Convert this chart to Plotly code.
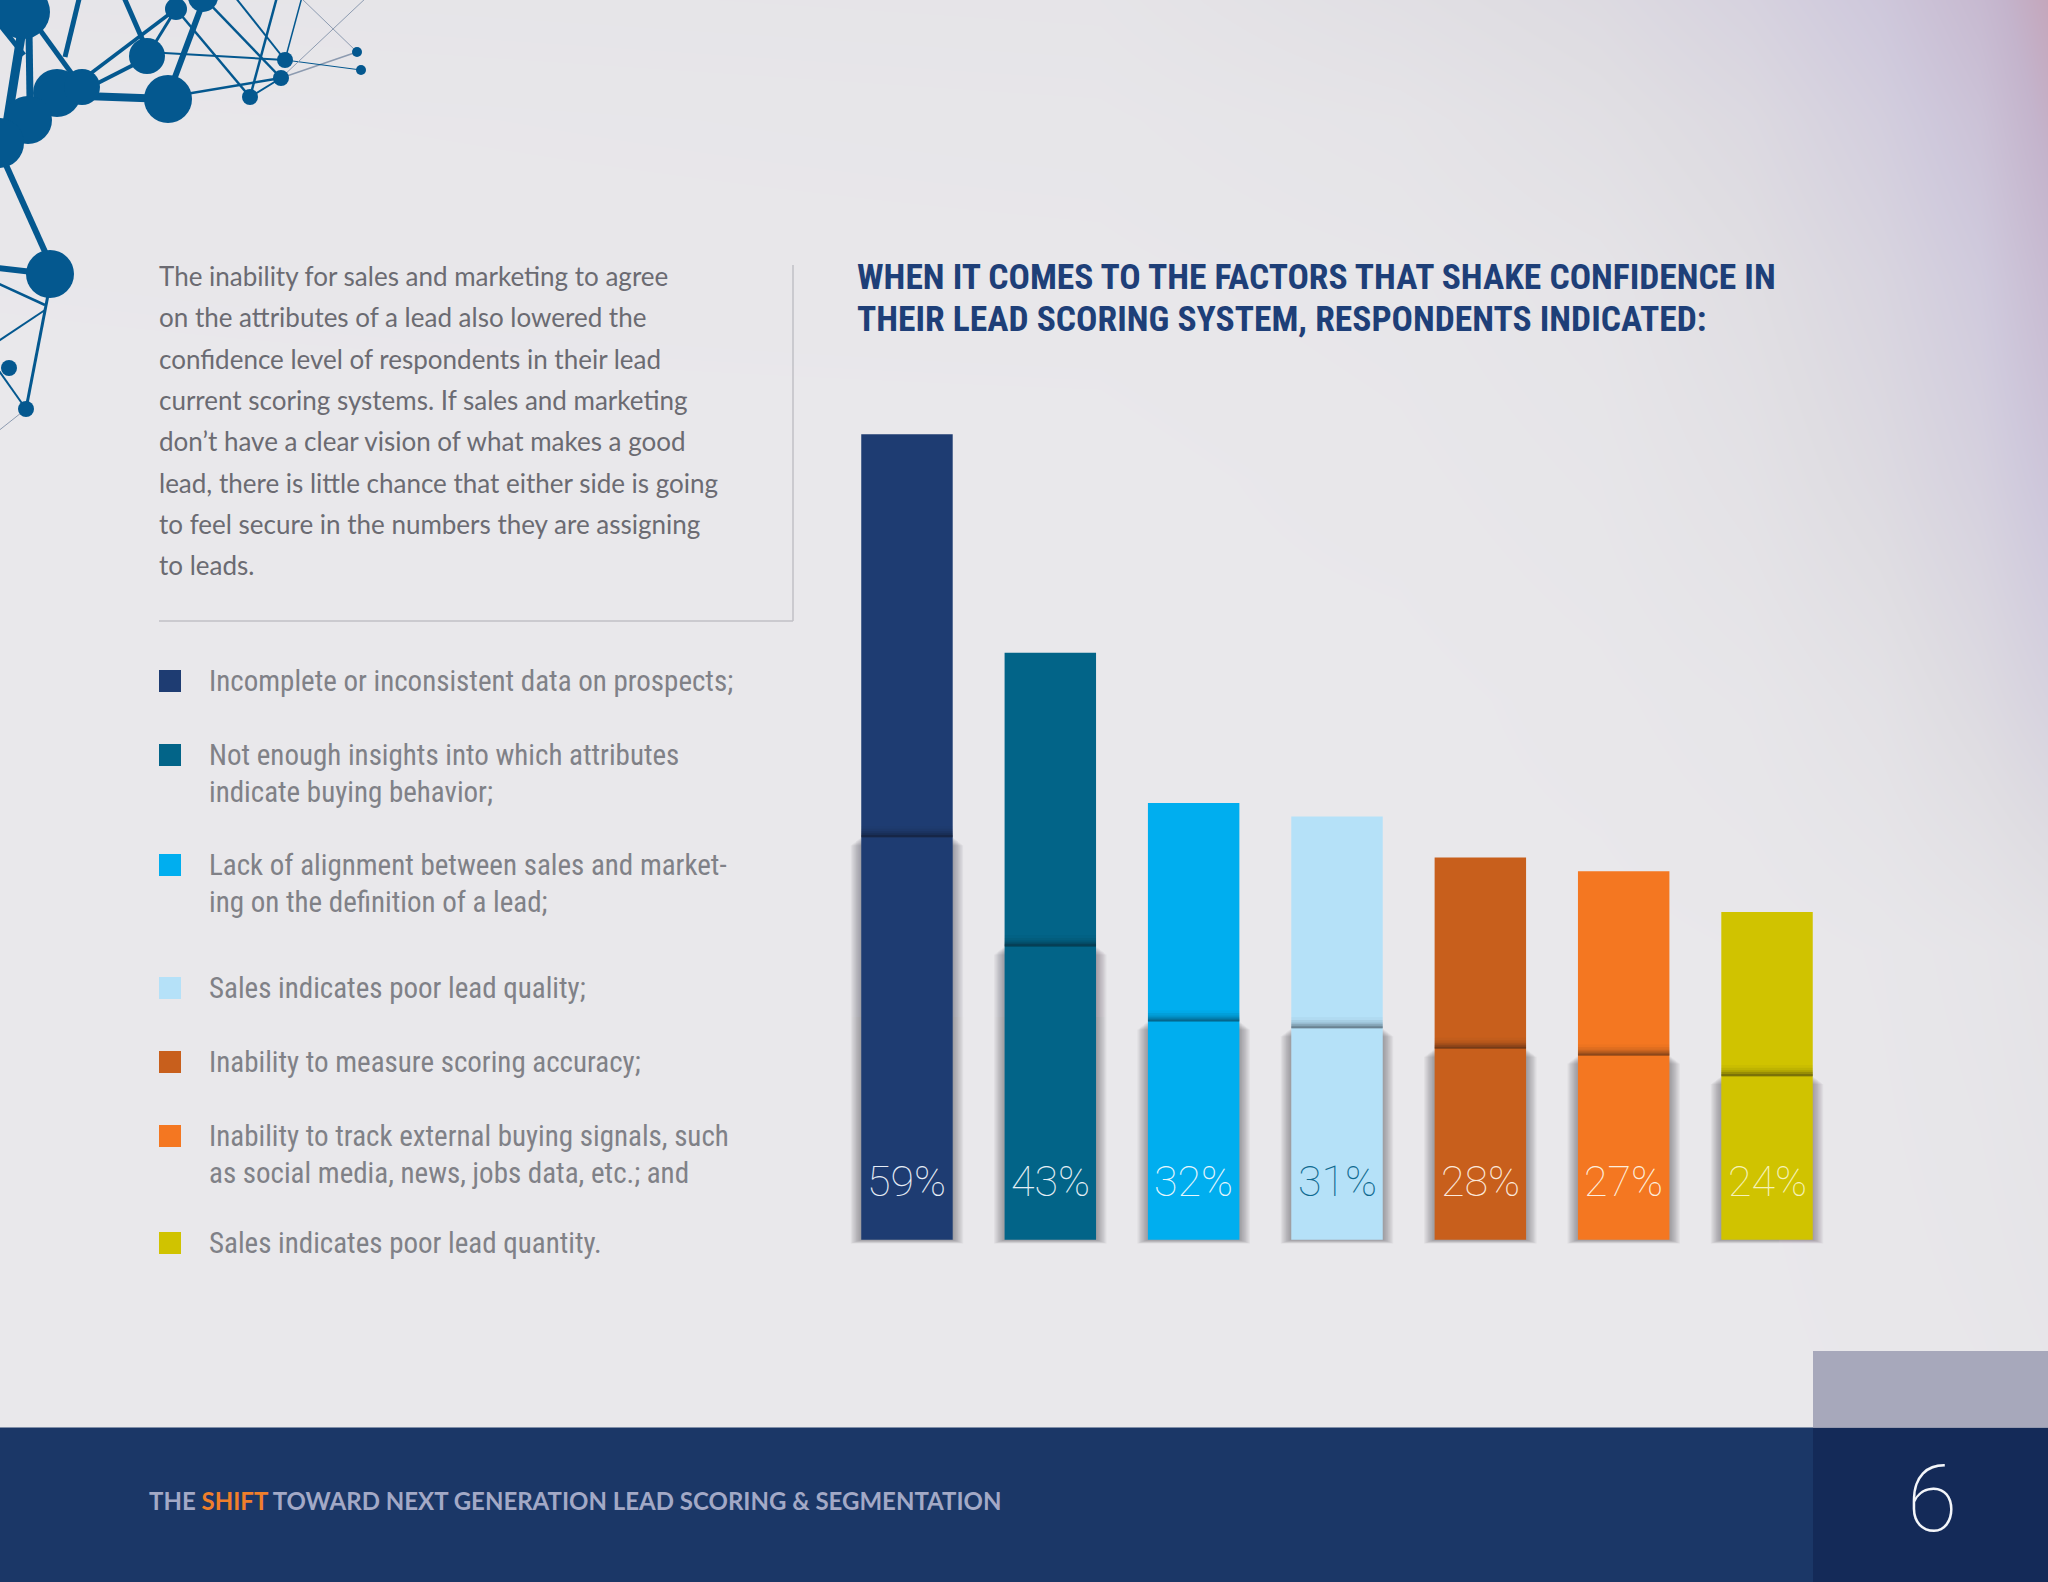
import plotly.graph_objects as go

# chart values
categories = [
    "Incomplete or inconsistent data on prospects;",
    "Not enough insights into which attributes<br>indicate buying behavior;",
    "Lack of alignment between sales and market-<br>ing on the definition of a lead;",
    "Sales indicates poor lead quality;",
    "Inability to measure scoring accuracy;",
    "Inability to track external buying signals, such<br>as social media, news, jobs data, etc.; and",
    "Sales indicates poor lead quantity.",
]
values = [59, 43, 32, 31, 28, 27, 24]
fold_levels = [29.5, 21.5, 16, 15.5, 14, 13.5, 12]
bar_colors = ["#1e3c72", "#026488", "#00aeef", "#b5e1f8", "#c85f1c", "#f47721", "#d0c300"]
label_colors = ["#e6edf6", "#e6eff5", "#e6f6fd", "#0f6a90", "#fbe9dc", "#fdeede", "#f6f2b8"]

paragraph = [
    "The inability for sales and marketing to agree",
    "on the attributes of a lead also lowered the",
    "confidence level of respondents in their lead",
    "current scoring systems. If sales and marketing",
    "don’t have a clear vision of what makes a good",
    "lead, there is little chance that either side is going",
    "to feel secure in the numbers they are assigning",
    "to leads.",
]
paragraph_y = [276, 317, 359, 400, 441, 483, 524, 565]
title_lines = [
    "WHEN IT COMES TO THE FACTORS THAT SHAKE CONFIDENCE IN",
    "THEIR LEAD SCORING SYSTEM, RESPONDENTS INDICATED:",
]
title_y = [277, 319]
legend_y = [681, 755, 865, 988, 1062, 1136, 1243]
LEGEND_LINE = 36.5

# soft background tint, read from the top right of the page
bg_x = [-100, 1100, 1400, 1600, 1750, 1880, 1980, 2048, 2150]
bg_y = [-100, 0, 120, 280, 480, 700, 950, 1700]
bg_tint = [
    [.06, .08, .16, .26, .40, .60, .85, 1.0, 1.0],
    [.05, .07, .16, .24, .36, .52, .72, .95, 1.0],
    [.02, .04, .08, .16, .26, .42, .60, .85, .90],
    [.01, .02, .04, .08, .18, .32, .48, .70, .75],
    [.00, .00, .02, .05, .12, .24, .38, .55, .60],
    [.00, .00, .00, .02, .05, .12, .24, .36, .40],
    [.00, .00, .00, .00, .01, .03, .06, .10, .12],
    [.00, .00, .00, .00, .00, .00, .00, .00, .00],
]

# network ornament in the top left corner: x0, y0, x1, y1, width, colour
NET = "#04588f"
GREY = "#8d9bb0"
net_lines = [
    (80, -5, 65, 57, 5, NET), (123, -5, 147, 50, 5, NET), (40, 30, 72, 74, 5, NET),
    (22, 30, 6, 130, 9, NET), (29, 30, 30, 100, 7, NET), (0, 25, 24, 55, 5, NET),
    (82, 80, 176, 9, 3.5, NET), (96, 84, 147, 58, 4, NET), (147, 56, 176, 9, 3, NET),
    (57, 95, 168, 99, 8, NET), (175, 77, 205, -3, 6, NET), (168, 97, 281, 78, 2.5, NET),
    (147, 52, 285, 60, 2, NET), (176, 9, 250, 97, 2.5, NET), (203, -3, 281, 78, 2.5, NET),
    (235, -3, 285, 60, 2, NET), (277, -3, 250, 97, 2.5, NET), (302, -3, 285, 60, 1.5, NET),
    (250, 97, 281, 78, 2, NET), (281, 78, 357, 52, 1.5, GREY), (285, 60, 361, 70, 1, NET),
    (300, -3, 357, 52, 1, GREY), (367, -3, 281, 78, 1, GREY),
    (6, 165, 46, 254, 6, NET), (-3, 268, 50, 274, 6, NET), (-3, 283, 45, 305, 2.5, NET),
    (-3, 342, 45, 310, 2, NET), (48, 295, 26, 409, 3, NET), (-3, 368, 26, 409, 2, NET),
    (26, 409, -3, 432, 1, GREY),
]
# x, y, radius
net_nodes = [
    (23, 12, 27), (176, 9, 11), (203, -3, 15), (147, 56, 18), (168, 99, 24), (57, 93, 24),
    (82, 87, 18), (28, 120, 24), (-1, 143, 25), (50, 274, 24), (285, 60, 8), (281, 78, 8),
    (250, 97, 8), (357, 52, 5), (361, 70, 5), (9, 368, 8), (26, 409, 8),
]

W, H = 2048, 1582
BAR_W = 0.638
BASE_Y, UNIT = 1239.7, 13.65     # page pixels of the zero line and of one percent
PLOT_L, PLOT_R = 835.3, 1838.7
Y_MIN, Y_MAX = -2, 60


def rect(x0, y0, x1, y1, color, width=0):
    return dict(type="rect", xref="x", yref="y", x0=x0, y0=y0, x1=x1, y1=y1, layer="above",
                fillcolor=color, line=dict(width=width, color=color))


def label(x, y, text, family, size, color, anchor="left", xref="x", yref="y", weight=None):
    return dict(x=x, y=y, xref=xref, yref=yref, text=text, showarrow=False, xanchor=anchor,
                yanchor="middle", align=anchor,
                font=dict(family=family, size=size, color=color, weight=weight))


fig = go.Figure()

fig.add_trace(go.Heatmap(
    x=bg_x, y=bg_y, z=bg_tint, zmin=0, zmax=1, zsmooth="best", showscale=False, hoverinfo="skip",
    colorscale=[[0, "#e9e8eb"], [.2, "#dfdde2"], [.5, "#cfc9dc"], [.8, "#c4b4cc"], [1, "#c4a2b6"]],
    xaxis="x", yaxis="y",
))

# soft shadow under the lower half of each bar
for i in range(1, 9):
    grow = 1.3 * i / 143.3
    fig.add_trace(go.Bar(
        x=categories, y=[f - 0.04 * i for f in fold_levels], base=-0.035 * i,
        width=BAR_W + 2 * grow, marker=dict(color="#3c3840", line_width=0), opacity=0.06,
        hoverinfo="skip", xaxis="x2", yaxis="y2",
    ))

fig.add_trace(go.Bar(
    x=categories, y=values, width=BAR_W, marker=dict(color=bar_colors, line_width=0),
    hoverinfo="skip", xaxis="x2", yaxis="y2",
))

# dark crease just above the fold
for cat, fold in zip(categories, fold_levels):
    for h, op in [(0.14, .22), (0.28, .14), (0.42, .09), (0.6, .06), (0.8, .03)]:
        fig.add_trace(go.Bar(
            x=[cat], y=[h], base=[fold], width=BAR_W,
            marker=dict(color="#101018", line_width=0), opacity=op,
            hoverinfo="skip", xaxis="x2", yaxis="y2",
        ))

shapes = []
shapes.append(rect(0, 1427.5, 1813, H, "#1b3767"))
shapes.append(rect(1813, 1427.5, W, H, "#142a58"))
shapes.append(rect(1813, 1351, W, 1427.5, "#a7a8bb"))
# rule around the paragraph
shapes.append(dict(type="line", xref="x", yref="y", x0=793, y0=265, x1=793, y1=621, layer="above",
                   line=dict(color="#c0c0c6", width=1.5)))
shapes.append(dict(type="line", xref="x", yref="y", x0=159, y0=621, x1=793, y1=621, layer="above",
                   line=dict(color="#c0c0c6", width=1.5)))
for x0, y0, x1, y1, w, c in net_lines:
    shapes.append(dict(type="line", xref="x", yref="y", x0=x0, y0=y0, x1=x1, y1=y1, layer="above",
                       line=dict(color=c, width=w)))
for x, y, r in net_nodes:
    shapes.append(dict(type="circle", xref="x", yref="y", x0=x - r, y0=y - r, x1=x + r, y1=y + r,
                       layer="above", fillcolor=NET, line_width=0))
for y, c in zip(legend_y, bar_colors):
    shapes.append(rect(159, y - 11, 181, y + 11, c))

notes = []
for y, line in zip(paragraph_y, paragraph):
    notes.append(label(157, y, line, "Lato", 26, "#6b6b72"))
for y, line in zip(title_y, title_lines):
    notes.append(label(855, y, f"<b>{line}</b>", "Roboto Condensed", 35.5, "#1e3f78"))
for y, cat in zip(legend_y, categories):
    for n, line in enumerate(cat.split("<br>")):
        notes.append(label(207, y + n * LEGEND_LINE, line, "Roboto Condensed", 29, "#808187"))
for cat, v, c in zip(categories, values, label_colors):
    notes.append(label(cat, 4.3, f"{v}%", "Roboto", 43, c, anchor="center",
                       xref="x2", yref="y2", weight=100))
notes.append(label(147, 1500,
                   '<b>THE <span style="color:#f07f2b">SHIFT</span> TOWARD NEXT GENERATION '
                   'LEAD SCORING &amp; SEGMENTATION</b>', "Lato", 24, "#a3a9c6"))
notes.append(label(1932, 1499, "6", "Roboto", 92, "#f4f6fa", anchor="center", weight=100))

fig.update_layout(
    width=W, height=H, margin=dict(l=0, r=0, t=0, b=0), showlegend=False, barmode="overlay",
    paper_bgcolor="#e9e8eb", plot_bgcolor="rgba(0,0,0,0)",
    xaxis=dict(range=[0, W], domain=[0, 1], visible=False),
    yaxis=dict(range=[H, 0], domain=[0, 1], visible=False),
    xaxis2=dict(type="category", categoryorder="array", categoryarray=categories, range=[-0.5, 6.5],
                domain=[PLOT_L / W, PLOT_R / W], anchor="y2", visible=False),
    yaxis2=dict(range=[Y_MIN, Y_MAX], anchor="x2", visible=False,
                domain=[1 - (BASE_Y - Y_MIN * UNIT) / H, 1 - (BASE_Y - Y_MAX * UNIT) / H]),
    shapes=shapes, annotations=notes,
)

fig.write_html("out.html", config=dict(displayModeBar=False),
               post_script="document.body.style.margin='0';document.body.style.overflow='hidden';")
